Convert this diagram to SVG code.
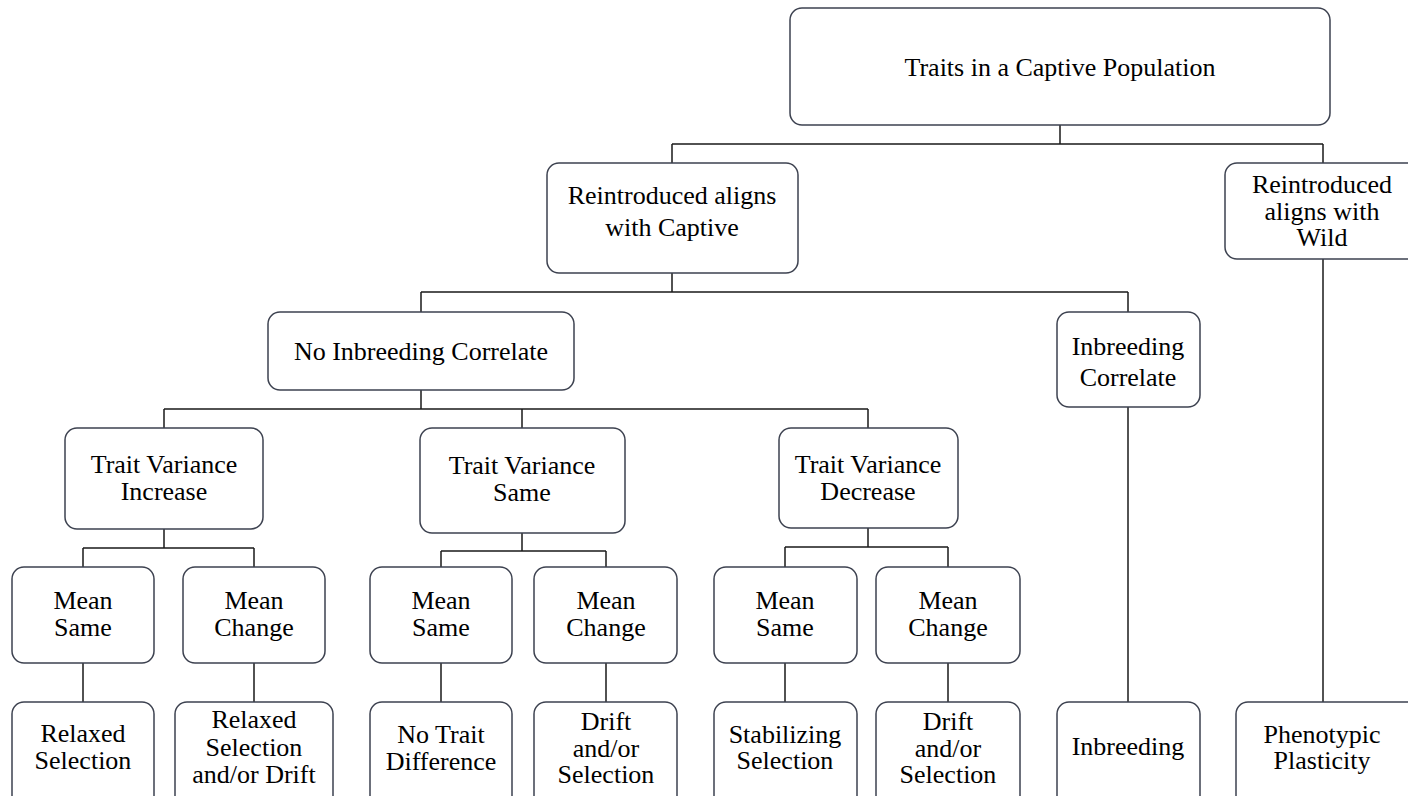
<svg xmlns="http://www.w3.org/2000/svg" width="1408" height="796" viewBox="0 0 1408 796">
<style>
.box{fill:#fff;stroke:#3d4250;stroke-width:1.5}
.t{font-family:"Liberation Serif","Times New Roman",serif;font-size:26px;fill:#000;text-anchor:middle}
.c{fill:none;stroke:#1a1a1a;stroke-width:1.5}
</style>
<rect width="1408" height="796" fill="#fff"/>
<g id="connectors">
<path class="c" d="M1060 125V144M672 144H1323M672 144V163M1323 144V163"/>
<path class="c" d="M672 273V292M421 292H1128M421 292V312M1128 292V312"/>
<path class="c" d="M1323 259V702"/>
<path class="c" d="M421 390V409M164 409H868M164 409V428M522 409V428M868 409V428"/>
<path class="c" d="M1128 407V702"/>
<path class="c" d="M164 529V548M83 548H254M83 548V567M254 548V567"/>
<path class="c" d="M522 533V551M441 551H606M441 551V567M606 551V567"/>
<path class="c" d="M868 528V547M785 547H948M785 547V567M948 547V567"/>
<path class="c" d="M83 663V702M254 663V702M441 663V702M606 663V702M785 663V702M948 663V702"/>
</g>
<g id="root"><rect class="box" x="790" y="8" width="540" height="117" rx="12"/><text class="t" x="1060" y="76">Traits in a Captive Population</text></g>
<g id="captive"><rect class="box" x="547" y="163" width="251" height="110" rx="12"/><text class="t" x="672" y="204">Reintroduced aligns</text><text class="t" x="672" y="236">with Captive</text></g>
<g id="wild"><rect class="box" x="1225" y="163" width="200" height="96" rx="12"/><text class="t" x="1322" y="193">Reintroduced</text><text class="t" x="1322" y="220">aligns with</text><text class="t" x="1322" y="246">Wild</text></g>
<g id="noinbreeding"><rect class="box" x="268" y="312" width="306" height="78" rx="12"/><text class="t" x="421" y="360">No Inbreeding Correlate</text></g>
<g id="inbreedingcorr"><rect class="box" x="1057" y="312" width="143" height="95" rx="12"/><text class="t" x="1128" y="355">Inbreeding</text><text class="t" x="1128" y="386">Correlate</text></g>
<g id="tvincrease"><rect class="box" x="65" y="428" width="198" height="101" rx="12"/><text class="t" x="164" y="473">Trait Variance</text><text class="t" x="164" y="500">Increase</text></g>
<g id="tvsame"><rect class="box" x="420" y="428" width="205" height="105" rx="12"/><text class="t" x="522" y="474">Trait Variance</text><text class="t" x="522" y="501">Same</text></g>
<g id="tvdecrease"><rect class="box" x="779" y="428" width="179" height="100" rx="12"/><text class="t" x="868" y="473">Trait Variance</text><text class="t" x="868" y="500">Decrease</text></g>
<g id="ms1"><rect class="box" x="12" y="567" width="142" height="96" rx="12"/><text class="t" x="83" y="609">Mean</text><text class="t" x="83" y="636">Same</text></g>
<g id="mc1"><rect class="box" x="183" y="567" width="142" height="96" rx="12"/><text class="t" x="254" y="609">Mean</text><text class="t" x="254" y="636">Change</text></g>
<g id="ms2"><rect class="box" x="370" y="567" width="142" height="96" rx="12"/><text class="t" x="441" y="609">Mean</text><text class="t" x="441" y="636">Same</text></g>
<g id="mc2"><rect class="box" x="534" y="567" width="143" height="96" rx="12"/><text class="t" x="606" y="609">Mean</text><text class="t" x="606" y="636">Change</text></g>
<g id="ms3"><rect class="box" x="714" y="567" width="143" height="96" rx="12"/><text class="t" x="785" y="609">Mean</text><text class="t" x="785" y="636">Same</text></g>
<g id="mc3"><rect class="box" x="876" y="567" width="144" height="96" rx="12"/><text class="t" x="948" y="609">Mean</text><text class="t" x="948" y="636">Change</text></g>
<g id="r1"><rect class="box" x="12" y="702" width="142" height="110" rx="12"/><text class="t" x="83" y="742">Relaxed</text><text class="t" x="83" y="769">Selection</text></g>
<g id="r2"><rect class="box" x="175" y="702" width="158" height="110" rx="12"/><text class="t" x="254" y="728">Relaxed</text><text class="t" x="254" y="756">Selection</text><text class="t" x="254" y="783">and/or Drift</text></g>
<g id="r3"><rect class="box" x="370" y="702" width="142" height="110" rx="12"/><text class="t" x="441" y="743">No Trait</text><text class="t" x="441" y="770">Difference</text></g>
<g id="r4"><rect class="box" x="534" y="702" width="143" height="110" rx="12"/><text class="t" x="606" y="730">Drift</text><text class="t" x="606" y="757">and/or</text><text class="t" x="606" y="783">Selection</text></g>
<g id="r5"><rect class="box" x="714" y="702" width="143" height="110" rx="12"/><text class="t" x="785" y="743">Stabilizing</text><text class="t" x="785" y="769">Selection</text></g>
<g id="r6"><rect class="box" x="876" y="702" width="144" height="110" rx="12"/><text class="t" x="948" y="730">Drift</text><text class="t" x="948" y="757">and/or</text><text class="t" x="948" y="783">Selection</text></g>
<g id="r7"><rect class="box" x="1057" y="702" width="143" height="110" rx="12"/><text class="t" x="1128" y="755">Inbreeding</text></g>
<g id="r8"><rect class="box" x="1236" y="702" width="190" height="110" rx="12"/><text class="t" x="1322" y="743">Phenotypic</text><text class="t" x="1322" y="769">Plasticity</text></g>
</svg>
